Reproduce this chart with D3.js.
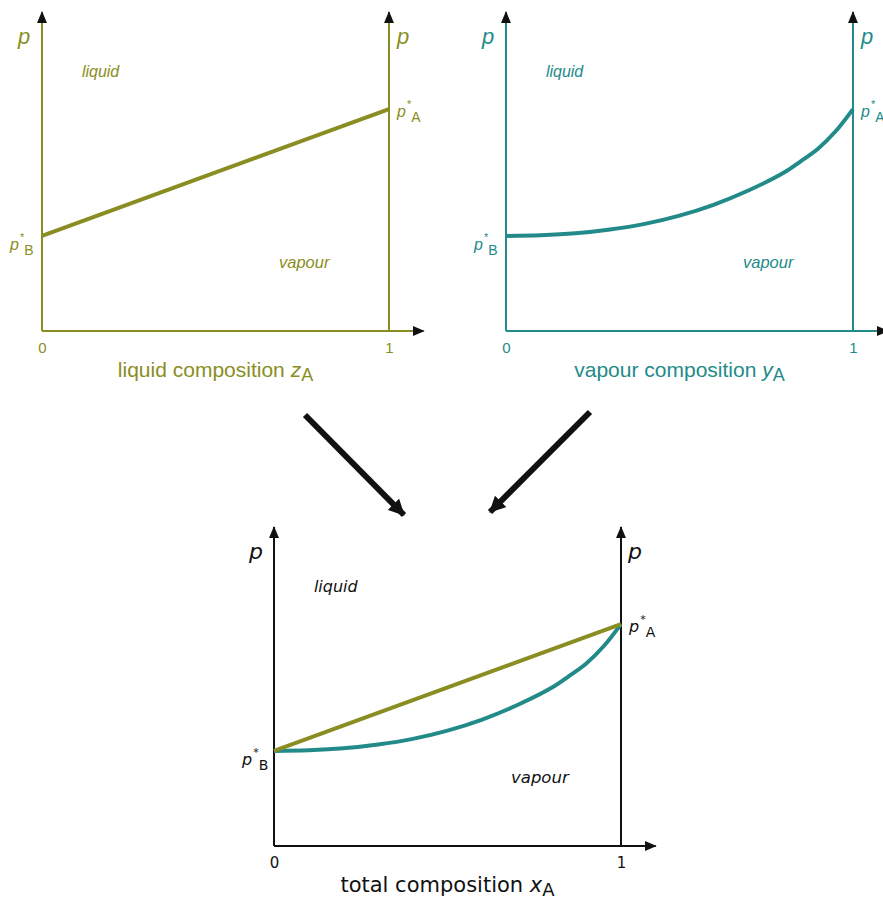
<!DOCTYPE html>
<html>
<head>
<meta charset="utf-8">
<script src="https://cdn.jsdelivr.net/npm/d3@7"></script>
<style>
  body { margin: 0; background: #fff; }
</style>
</head>
<body>
<svg id="chart" width="883" height="898"></svg>
<script>
// pressures as fraction of the full axis height
var pB = 0.30, pA = 0.70;
var tickValues = [0, 1];
// straight liquid line (bubble line) in composition z_A
var liquidX = [0, 1];
var liquidP = [pB, pA];
// vapour curve (dew line)
var vapourX = [0, 0.1, 0.2, 0.3, 0.4, 0.5, 0.6, 0.7, 0.8, 0.85, 0.9, 0.95, 1];
var vapourP = [0.300, 0.302, 0.308, 0.320, 0.338, 0.364, 0.399, 0.444, 0.499, 0.536, 0.576, 0.630, 0.700];

var olive = "#8a8e22", teal = "#228b89", dark = "#111111";

var svg = d3.select("#chart");

var defs = svg.append("defs");
function addMarker(id, w, l) {
    defs.append("marker")
        .attr("id", id)
        .attr("markerUnits", "userSpaceOnUse")
        .attr("viewBox", "0 -" + w / 2 + " " + l + " " + w)
        .attr("refX", l - 1)
        .attr("refY", 0)
        .attr("markerWidth", l)
        .attr("markerHeight", w)
        .attr("orient", "auto")
        .append("path")
        .attr("d", "M0,-" + w / 2 + "L" + l + ",0L0," + w / 2 + "Z")
        .style("fill", dark);
}
addMarker("ax", 10, 12);
addMarker("big", 16, 16);

function zip(xs, ps) {
    return xs.map(function (d, i) { return [d, ps[i]]; });
}

function drawPanel(opt) {
    var x = d3.scaleLinear().domain([0, 1]).range([opt.x0, opt.x0 + 347]);
    var y = d3.scaleLinear().domain([0, 1]).range([opt.y0, opt.y0 - 317]);
    var g = svg.append("g");
    var font = opt.font;
    var c = opt.color;
    var tc = opt.textColor;

    // axes
    g.append("line")
        .attr("x1", x(0)).attr("y1", y(0)).attr("x2", x(1.1)).attr("y2", y(0))
        .attr("marker-end", "url(#ax)")
        .style("stroke", c).style("stroke-width", 2);
    g.append("line")
        .attr("x1", x(0)).attr("y1", y(0)).attr("x2", x(0)).attr("y2", y(1.006))
        .attr("marker-end", "url(#ax)")
        .style("stroke", c).style("stroke-width", 2);
    g.append("line")
        .attr("x1", x(1)).attr("y1", y(0)).attr("x2", x(1)).attr("y2", y(1.006))
        .attr("marker-end", "url(#ax)")
        .style("stroke", c).style("stroke-width", 2);

    // tick labels
    var ax = g.append("g")
        .attr("transform", "translate(0," + y(0) + ")")
        .call(d3.axisBottom(x).tickValues(tickValues).tickSize(0).tickPadding(11).tickFormat(d3.format("d")));
    ax.select(".domain").remove();
    ax.selectAll("text")
        .style("font-family", font).style("font-size", "15px").style("fill", tc);

    // p labels
    g.append("text").attr("x", x(0) - 18).attr("y", y(0.905))
        .attr("text-anchor", "middle")
        .style("font-family", font).style("font-style", "italic").style("font-size", "22px")
        .style("fill", tc).text("p");
    g.append("text").attr("x", x(1) + 14).attr("y", y(0.905))
        .attr("text-anchor", "middle")
        .style("font-family", font).style("font-style", "italic").style("font-size", "22px")
        .style("fill", tc).text("p");

    g.append("text").attr("x", x(0.115)).attr("y", y(0.80))
        .style("font-family", font).style("font-style", "italic").style("font-size", "16px")
        .style("fill", tc).text("liquid");
    g.append("text").attr("x", x(0.683)).attr("y", y(0.199))
        .style("font-family", font).style("font-style", "italic").style("font-size", "16.5px")
        .style("fill", tc).text("vapour");

    function pstar(px, py, sub) {
        var t = g.append("text").attr("x", px).attr("y", py)
            .style("font-family", font).style("font-size", "16px").style("fill", tc);
        t.append("tspan").style("font-style", "italic").text("p");
        t.append("tspan").attr("dy", -9).attr("dx", 1).style("font-size", "11px").text("*");
        t.append("tspan").attr("dy", 14).attr("dx", 0).style("font-size", "14px").text(sub);
    }
    pstar(x(1) + 8, y(pA) + 8, "A");
    pstar(x(0) - 32, y(pB) + 14, "B");

    // axis title
    var tt = g.append("text").attr("x", x(0.5)).attr("y", y(0) + 46)
        .attr("text-anchor", "middle")
        .style("font-family", font).style("font-size", "21px").style("fill", tc);
    tt.append("tspan").text(opt.title + " ");
    tt.append("tspan").style("font-style", "italic").text(opt.sym);
    tt.append("tspan").attr("dy", 4).style("font-size", "18px").text("A");

    var line = d3.line()
        .x(function (d) { return x(d[0]); })
        .y(function (d) { return y(d[1]); })
        .curve(d3.curveCatmullRom);

    if (opt.showVapour) {
        g.append("path").datum(zip(vapourX, vapourP))
            .attr("d", line)
            .style("fill", "none").style("stroke", teal).style("stroke-width", 4);
    }
    if (opt.showLiquid) {
        g.append("path").datum(zip(liquidX, liquidP))
            .attr("d", line)
            .style("fill", "none").style("stroke", olive).style("stroke-width", 4);
    }
}

drawPanel({ x0: 42, y0: 331, color: olive, textColor: olive, font: "Liberation Sans",
    title: "liquid composition", sym: "z", showLiquid: true });
drawPanel({ x0: 506, y0: 331, color: teal, textColor: teal, font: "Liberation Sans",
    title: "vapour composition", sym: "y", showVapour: true });
drawPanel({ x0: 274, y0: 846, color: dark, textColor: dark, font: "DejaVu Sans",
    title: "total composition", sym: "x", showLiquid: true, showVapour: true });

// big arrows between panels
svg.append("line").attr("x1", 305).attr("y1", 415).attr("x2", 404).attr("y2", 515)
    .attr("marker-end", "url(#big)")
    .style("stroke", dark).style("stroke-width", 6);
svg.append("line").attr("x1", 590).attr("y1", 412).attr("x2", 490).attr("y2", 512)
    .attr("marker-end", "url(#big)")
    .style("stroke", dark).style("stroke-width", 6);
</script>
</body>
</html>
